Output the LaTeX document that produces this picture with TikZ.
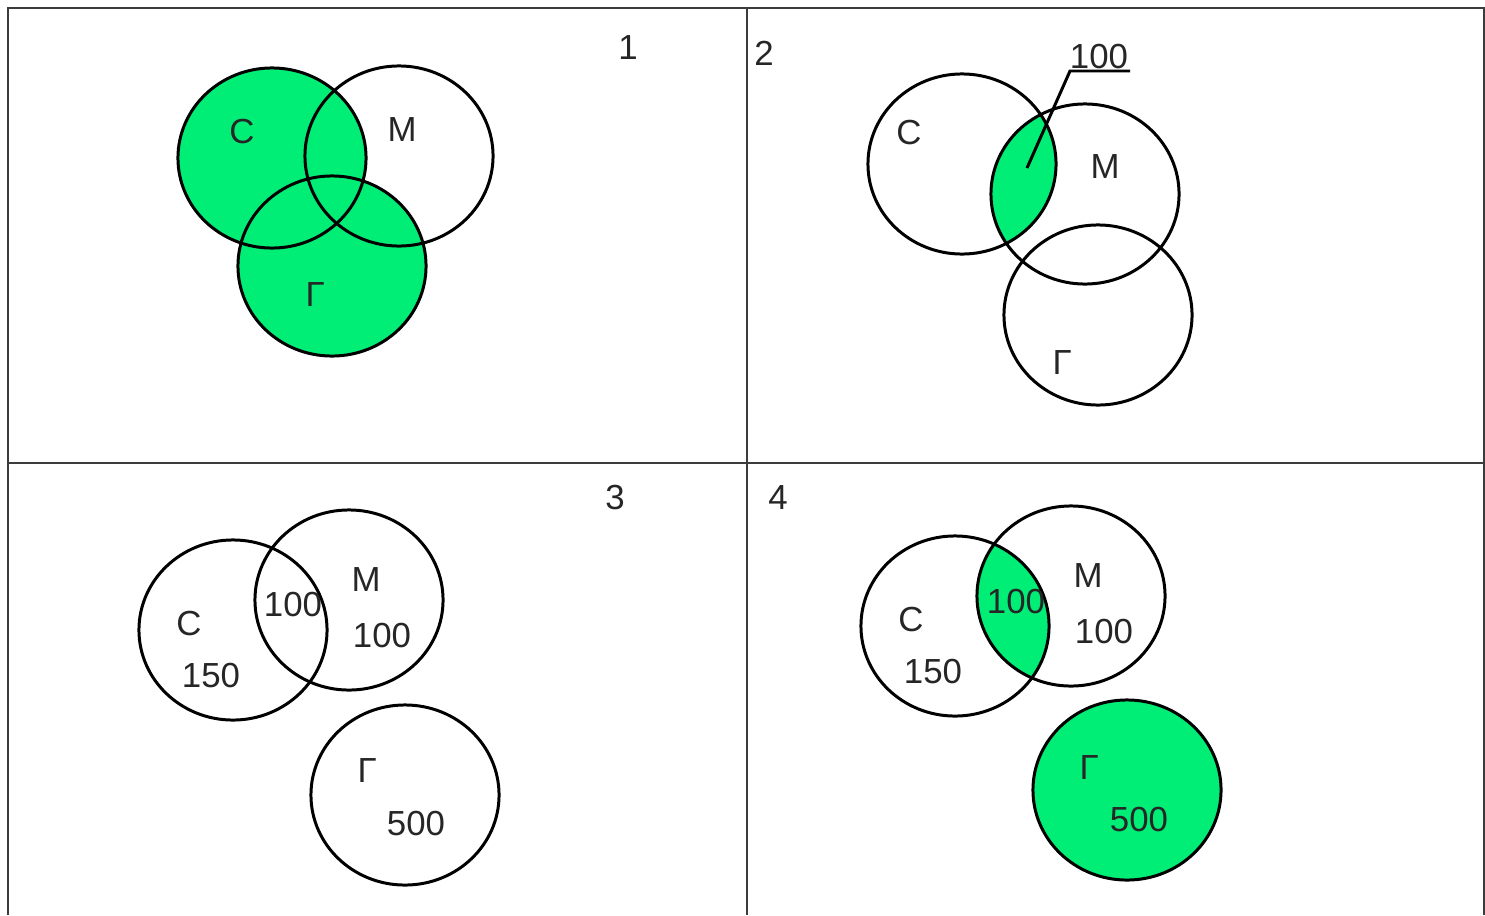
\documentclass[tikz,border=0pt]{standalone}
\usepackage{fontspec}
\setmainfont{Liberation Sans}
\definecolor{vgreen}{RGB}{0,238,118}
\definecolor{gridgray}{RGB}{60,60,60}
\tikzset{
  set/.style={draw=black, line width=0.85pt},
  grid/.style={draw=gridgray, line width=0.6pt},
  lbl/.style={inner sep=0pt, anchor=center, font=\fontsize{9.9}{11}\selectfont, text=black!85},
}
\newcommand\elps{ellipse [x radius=0.94cm, y radius=0.90cm]}
\begin{document}
\begin{tikzpicture}[x=0.01cm,y=-0.01cm]
\useasboundingbox (0,0) rectangle (1485,915);
\fill[white] (0,0) rectangle (1485,915);
% grid
\coordinate (tl) at (8,8);
\coordinate (tr) at (1484,8);
\coordinate (bl) at (8,915);
\coordinate (br) at (1484,915);
\coordinate (tm) at (747,8);
\coordinate (bm) at (747,915);
\coordinate (ml) at (8,463);
\coordinate (mr) at (1484,463);
\draw[grid] (bl) -- (tl) -- (tr) -- (br);
\draw[grid] (tm) -- (bm);
\draw[grid] (ml) -- (mr);
% ---------- panel 1 ----------
\fill[vgreen] (272,158) \elps;
\fill[vgreen] (332,266) \elps;
\draw[set] (272,158) \elps;
\draw[set] (399,156) \elps;
\draw[set] (332,266) \elps;
\node[lbl] (n1) at (628,48) {1};
\node[lbl] (c1) at (242,132) {С};
\node[lbl] (m1) at (402,130) {М};
\node[lbl] (g1) at (315,295) {Г};
% ---------- panel 2 ----------
\begin{scope}
\clip (962,164) \elps;
\fill[vgreen] (1085,194) \elps;
\end{scope}
\draw[set] (962,164) \elps;
\draw[set] (1085,194) \elps;
\draw[set] (1098,315) \elps;
\node[lbl] (n2) at (764,53) {2};
\node[lbl] (c2) at (909,133) {С};
\node[lbl] (m2) at (1105,167) {М};
\node[lbl] (g2) at (1062,363) {Г};
\node[lbl] (v2) at (1099,57) {100};
\coordinate (p2) at (1027,168);
\coordinate (k2) at (1070,71);
\coordinate (e2) at (1130,71);
\draw[set] (p2) -- (k2) -- (e2);
% ---------- panel 3 ----------
\draw[set] (233,630) \elps;
\draw[set] (349,600) \elps;
\draw[set] (405,795) \elps;
\node[lbl] (n3) at (615,498) {3};
\node[lbl] (c3) at (189,624) {С};
\node[lbl] (c3v) at (211,676) {150};
\node[lbl] (cm3) at (293,605) {100};
\node[lbl] (m3) at (366,580) {М};
\node[lbl] (m3v) at (382,636) {100};
\node[lbl] (g3) at (367,771) {Г};
\node[lbl] (g3v) at (416,824) {500};
% ---------- panel 4 ----------
\begin{scope}
\clip (955,626) \elps;
\fill[vgreen] (1071,596) \elps;
\end{scope}
\fill[vgreen] (1127,790) \elps;
\draw[set] (955,626) \elps;
\draw[set] (1071,596) \elps;
\draw[set] (1127,790) \elps;
\node[lbl] (n4) at (778,498) {4};
\node[lbl] (c4) at (911,620) {С};
\node[lbl] (c4v) at (933,672) {150};
\node[lbl] (cm4) at (1016,602) {100};
\node[lbl] (m4) at (1088,576) {М};
\node[lbl] (m4v) at (1104,632) {100};
\node[lbl] (g4) at (1089,768) {Г};
\node[lbl] (g4v) at (1139,820) {500};
\end{tikzpicture}
\end{document}
